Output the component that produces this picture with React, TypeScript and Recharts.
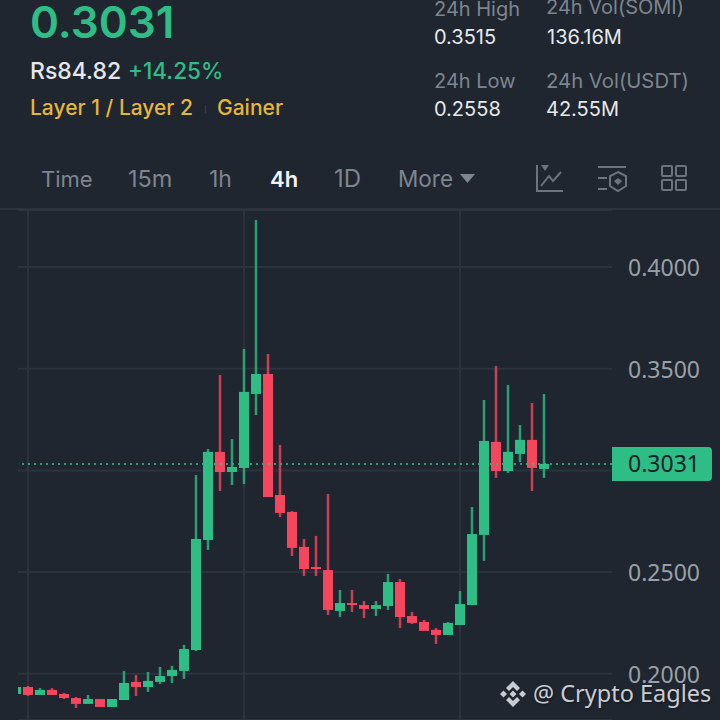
import React from 'react';
import {
  ComposedChart, Bar, XAxis, YAxis, CartesianGrid, ReferenceLine,
} from 'recharts';

const GREEN = '#2ebd85';
const RED = '#f6465d';
const GRID = '#2c333d';
const MUTED = '#7e858e';
const TEXT = '#e6e8ea';
const YELLOW = '#e4b63a';
const BG = '#1f2630';

// 4h candles
const opens = [
  0.1901, 0.1935, 0.1896, 0.1921, 0.1901, 0.1881, 0.1852, 0.1876, 0.1837, 0.1871,
  0.1960, 0.1935, 0.1960, 0.1989, 0.2014, 0.2117, 0.2658, 0.3091, 0.2992, 0.3012,
  0.3376, 0.3474, 0.2879, 0.2796, 0.2624, 0.2525, 0.2510, 0.2309, 0.2348, 0.2338,
  0.2319, 0.2333, 0.2451, 0.2284, 0.2255, 0.2216, 0.2191, 0.2240, 0.2338, 0.2683,
  0.3140, 0.2997, 0.3081, 0.3150, 0.3007,
];
const highs = [
  0.1935, 0.1940, 0.1930, 0.1930, 0.1906, 0.1886, 0.1896, 0.1876, 0.1876, 0.2014,
  0.1994, 0.2009, 0.2034, 0.2039, 0.2142, 0.2977, 0.3105, 0.3469, 0.3154, 0.3597,
  0.4231, 0.3572, 0.3125, 0.2800, 0.2663, 0.2678, 0.2884, 0.2412, 0.2412, 0.2358,
  0.2358, 0.2491, 0.2466, 0.2304, 0.2265, 0.2225, 0.2255, 0.2407, 0.2820, 0.3346,
  0.3513, 0.3420, 0.3223, 0.3331, 0.3376,
];
const lows = [
  0.1901, 0.1891, 0.1896, 0.1896, 0.1876, 0.1832, 0.1852, 0.1837, 0.1837, 0.1871,
  0.1891, 0.1911, 0.1950, 0.1955, 0.1975, 0.2112, 0.2609, 0.2899, 0.2928, 0.2933,
  0.3272, 0.2869, 0.2771, 0.2579, 0.2481, 0.2481, 0.2289, 0.2279, 0.2304, 0.2274,
  0.2284, 0.2314, 0.2225, 0.2245, 0.2211, 0.2147, 0.2191, 0.2240, 0.2338, 0.2555,
  0.2963, 0.2987, 0.3041, 0.2899, 0.2963,
];
const closes = [
  0.1935, 0.1896, 0.1921, 0.1896, 0.1881, 0.1852, 0.1876, 0.1837, 0.1876, 0.1955,
  0.1935, 0.1965, 0.1989, 0.2019, 0.2122, 0.2663, 0.3091, 0.2992, 0.3017, 0.3386,
  0.3474, 0.2869, 0.2791, 0.2619, 0.2515, 0.2515, 0.2314, 0.2348, 0.2338, 0.2319,
  0.2338, 0.2451, 0.2279, 0.2250, 0.2211, 0.2191, 0.2250, 0.2343, 0.2687, 0.3145,
  0.2997, 0.3091, 0.3150, 0.3012, 0.3032,
];

const yTicks = [0.2, 0.25, 0.3, 0.35, 0.4];
const timeLines = [28, 244, 460];
const lastPrice = 0.3031;

const candles = opens.map((open, i) => ({
  i,
  open,
  close: closes[i],
  range: [lows[i], highs[i]],
}));

// body is worked out from the wick bar the library already scaled
function Candle(props: any) {
  const { x, y, width, height, payload } = props;
  const [low, high] = payload.range;
  const pxPerUnit = height / (high - low);
  const top = y + (high - Math.max(payload.open, payload.close)) * pxPerUnit;
  const bottom = y + (high - Math.min(payload.open, payload.close)) * pxPerUnit;
  const color = payload.close >= payload.open ? GREEN : RED;
  const cx = x + width / 2;
  return (
    <g>
      <rect x={cx - 1.25} y={y} width={2.5} height={height} fill={color} fillOpacity={0.8} />
      <rect x={x} y={top} width={width} height={Math.max(bottom - top, 1.5)} fill={color} />
    </g>
  );
}

function PriceTag({ viewBox }: any) {
  const y = viewBox.y;
  return (
    <g>
      <path
        d={`M612 ${y - 17}H708a4 4 0 0 1 4 4V${y + 13}a4 4 0 0 1 -4 4H612Z`}
        fill={GREEN}
      />
      <text x={628} y={y + 8} fill="#16202a" fontSize={23} fontFamily="'Noto Sans', sans-serif">
        {lastPrice.toFixed(4)}
      </text>
    </g>
  );
}

function Label({ x, y, size, color, weight, children }: any) {
  return (
    <div
      style={{
        position: 'absolute', left: x, top: y, transform: 'translateY(-50%)',
        fontSize: size, color, fontWeight: weight ?? 400, whiteSpace: 'nowrap', lineHeight: 1,
      }}
    >
      {children}
    </div>
  );
}

const tabs = [
  { name: 'Time', x: 41, size: 22 },
  { name: '15m', x: 128, size: 23.5 },
  { name: '1h', x: 209, size: 23 },
  { name: '4h', x: 270, size: 22 },
  { name: '1D', x: 334, size: 24 },
  { name: 'More', x: 398, size: 22.5 },
];

function Icons() {
  const c = '#6d747d';
  return (
    <svg width={720} height={210} style={{ position: 'absolute', left: 0, top: 0 }} fill="none" stroke={c} strokeWidth={2}>
      <path d="M537 165V191H563" />
      <path d="M541 165L549 165L545 171Z" fill={c} stroke="none" />
      <path d="M541 186L549 176L553 181L561 172" />
      <path d="M598 167H626M598 178H607M598 189H607" />
      <path d="M618 172L626 176V186L618 191L610 186V176Z" />
      <path d="M618 178L622 181L618 185L614 181Z" fill={c} stroke="none" />
      <rect x={662} y={166} width={10} height={10} rx={1} />
      <rect x={676} y={166} width={10} height={10} rx={1} />
      <rect x={662} y={180} width={10} height={10} rx={1} />
      <rect x={676} y={180} width={10} height={10} rx={1} />
    </svg>
  );
}

export default function App() {
  return (
    <div
      style={{
        position: 'absolute', left: 0, top: 0, width: 720, height: 720, overflow: 'hidden',
        background: BG, fontFamily: "Inter, 'Noto Sans', sans-serif",
      }}
    >
      <Label x={30} y={22} size={44} color={GREEN} weight={600}>0.3031</Label>
      <Label x={30} y={71} size={23} color={TEXT} weight={500}>Rs84.82</Label>
      <Label x={128} y={71} size={22.5} color={GREEN} weight={500}>+14.25%</Label>
      <Label x={30} y={107} size={21} color={YELLOW} weight={500}>Layer 1 / Layer 2</Label>
      <div style={{ position: 'absolute', left: 205, top: 105, width: 1, height: 8, background: '#3a4049' }} />
      <Label x={217} y={107} size={21} color={YELLOW} weight={500}>Gainer</Label>

      <Label x={434} y={9} size={20} color={MUTED}>24h High</Label>
      <Label x={434} y={37} size={20} color={TEXT}>0.3515</Label>
      <Label x={546} y={7} size={20} color={MUTED}>24h Vol(SOMI)</Label>
      <Label x={547} y={37} size={20} color={TEXT}>136.16M</Label>
      <Label x={434} y={81} size={20} color={MUTED}>24h Low</Label>
      <Label x={434} y={109} size={20} color={TEXT}>0.2558</Label>
      <Label x={546} y={81} size={20.3} color={MUTED}>24h Vol(USDT)</Label>
      <Label x={546} y={109} size={20} color={TEXT}>42.55M</Label>

      {tabs.map(t => (
        <Label
          key={t.name}
          x={t.x}
          y={179}
          size={t.size}
          color={t.name === '4h' ? '#f0f1f2' : MUTED}
          weight={t.name === '4h' ? 600 : 400}
        >
          {t.name}
        </Label>
      ))}
      <svg width={16} height={10} style={{ position: 'absolute', left: 460, top: 174 }}>
        <path d="M0 0H15L7.5 9Z" fill={MUTED} />
      </svg>
      <Icons />
      <div style={{ position: 'absolute', left: 0, top: 208, width: 720, height: 2, background: GRID }} />

      <div style={{ position: 'absolute', left: 0, top: 210 }}>
        <ComposedChart
          width={720}
          height={510}
          data={candles}
          margin={{ top: 0, right: 0, bottom: 0, left: 18 }}
        >
          <CartesianGrid verticalCoordinatesGenerator={() => timeLines} stroke={GRID} strokeWidth={2} />
          <XAxis
            dataKey="i"
            type="number"
            hide
            allowDataOverflow
            domain={[0.1667, 49.6667]}
          />
          <YAxis
            orientation="right"
            width={108}
            domain={[0.17729, 0.42802]}
            ticks={yTicks}
            allowDataOverflow
            axisLine={false}
            tickLine={false}
            tickMargin={10}
            tick={{ fill: '#9aa0a7', fontSize: 23, dy: 1, fontFamily: "'Noto Sans', sans-serif" }}
            tickFormatter={(v: number) => (v === 0.3 ? '' : v.toFixed(4))}
          />
          <Bar dataKey="range" barSize={10} shape={Candle} isAnimationActive={false} />
          <ReferenceLine
            y={lastPrice}
            stroke={GREEN}
            strokeOpacity={0.8}
            strokeWidth={2}
            strokeDasharray="2 4"
            label={<PriceTag />}
          />
        </ComposedChart>
      </div>

      <svg width={28} height={28} viewBox="0 0 28 28" style={{ position: 'absolute', left: 499, top: 680 }} fill="#c9ccd1">
        <path d="M14 1L21 8L18 11L14 7L10 11L7 8Z" />
        <path d="M14 27L7 20L10 17L14 21L18 17L21 20Z" />
        <path d="M1 14L4.5 10.5L8 14L4.5 17.5Z" />
        <path d="M27 14L23.5 10.5L20 14L23.5 17.5Z" />
        <path d="M14 10.5L17.5 14L14 17.5L10.5 14Z" />
      </svg>
      <div
        style={{
          position: 'absolute', left: 533, top: 694, transform: 'translateY(-50%)',
          fontFamily: "'Noto Sans', sans-serif", fontSize: 23.5, lineHeight: 1, color: '#c9ccd1',
          whiteSpace: 'nowrap', textShadow: '1px 1px 2px #14181e',
        }}
      >
        @ Crypto Eagles
      </div>
    </div>
  );
}
